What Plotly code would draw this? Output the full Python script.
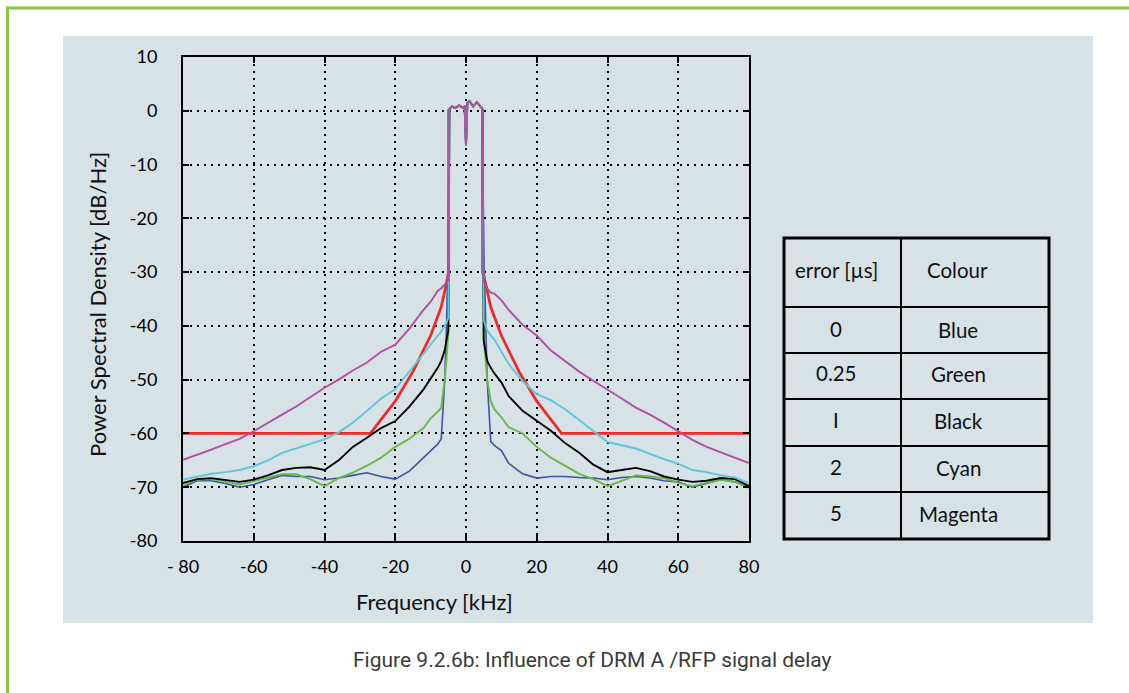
import plotly.graph_objects as go

# ---------------- data ----------------
tail_left_f = [-80, -76, -72, -68, -64, -60, -56, -52, -48, -44, -40, -36, -32, -28,
               -24, -20, -16, -12, -10, -8, -7, -6, -5.5, -5]
tail_right_f = [5, 5.5, 6, 7, 8, 10, 12, 16, 20, 24, 28, 32, 36, 40, 44, 48, 52, 56,
                60, 64, 68, 72, 76, 80]
plateau_f = [-4.7, -4, -3, -2, -1, -0.4, 0, 0.4, 1, 2, 3, 4, 4.6]
plateau_db = [0.3, 0.8, 0.5, 1.0, 0.6, 0.8, -6.4, 1.5, 1.8, 0.8, 1.6, 0.8, 0.4]

blue_left = [-70.0, -68.8, -68.8, -69.3, -70.0, -69.5, -68.6, -67.8, -68.0, -68.0, -68.6, -68.3,
             -67.8, -67.3, -68.0, -68.5, -67.0, -64.5, -63.3, -62.0, -61.0, -50.0, -40.0, -25.0]
blue_right = [-25.0, -40.0, -50.2, -61.5, -62.2, -63.2, -65.5, -67.5, -68.3, -68.0, -68.0, -68.2,
              -68.3, -68.6, -68.2, -68.0, -68.3, -68.8, -69.0, -70.0, -69.3, -68.6, -69.0, -70.1]

green_left = [-69.5, -68.6, -68.5, -68.9, -69.5, -68.9, -68.3, -67.6, -67.6, -68.5, -69.8, -68.3,
              -67.3, -66.0, -64.5, -62.5, -61.0, -59.0, -57.2, -56.0, -55.2, -50.0, -46.0, -41.6]
green_right = [-42.0, -45.9, -50.0, -54.0, -55.5, -57.0, -58.8, -60.0, -62.5, -64.5, -66.0, -67.5,
               -68.5, -69.8, -68.8, -67.8, -68.0, -68.3, -69.2, -69.8, -69.2, -68.6, -69.0, -70.0]

black_left = [-69.2, -68.5, -68.3, -68.6, -69.0, -68.6, -67.8, -66.8, -66.4, -66.3, -66.8, -65.0,
              -62.5, -60.8, -59.0, -57.7, -55.0, -51.8, -49.9, -47.8, -46.5, -44.5, -42.5, -40.9]
black_right = [-42.8, -45.0, -46.5, -47.8, -48.8, -50.5, -53.0, -55.8, -57.6, -59.5, -61.8, -63.6,
               -65.8, -67.2, -66.8, -66.4, -67.0, -68.0, -68.6, -69.0, -68.8, -68.3, -68.5, -69.8]

cyan_left = [-68.6, -68.0, -67.5, -67.2, -66.8, -66.1, -65.0, -63.6, -62.8, -62.0, -61.1, -59.8,
             -58.0, -55.8, -53.5, -51.8, -48.5, -45.0, -43.5, -41.8, -41.0, -40.0, -39.4, -38.5]
cyan_right = [-39.0, -40.0, -40.8, -41.8, -42.5, -44.8, -47.0, -50.3, -52.7, -53.8, -55.5, -57.5,
              -59.5, -61.6, -62.2, -62.8, -63.8, -64.8, -65.6, -66.8, -67.2, -67.8, -68.2, -69.2]

magenta_left = [-64.9, -64.0, -63.0, -62.0, -61.0, -59.6, -58.0, -56.5, -55.0, -53.2, -51.5, -50.0,
                -48.3, -46.8, -44.8, -43.5, -40.5, -37.0, -35.5, -33.5, -33.0, -32.3, -31.9, -31.5]
magenta_right = [-31.8, -32.5, -33.0, -33.8, -34.0, -35.2, -37.0, -39.8, -41.8, -44.6, -46.5, -48.5,
                 -50.2, -51.8, -53.5, -55.2, -56.5, -58.0, -59.6, -61.2, -62.5, -63.5, -64.5, -65.5]

# spectrum mask (red); None = gap, the mask top is hidden under the measured spectra
mask_f = [-80, -27, -20, -15, -10, -7, -5.5, -4.9, -4.9, None, 4.7, 4.7, 5.5, 7, 10, 15, 20, 27, 80]
mask_db = [-60, -60, -54.0, -48.5, -41.8, -36.5, -32.0, -30.0, 0.3, None, 0.3, -30.0, -32.0, -36.5,
           -41.8, -48.5, -54.0, -60, -60]

x_tick_vals = [-80, -60, -40, -20, 0, 20, 40, 60, 80]
x_tick_text = ["- 80", "-60", "-40", "-20", "0", "20", "40", "60", "80"]
y_tick_vals = [10, 0, -10, -20, -30, -40, -50, -60, -70, -80]
y_tick_text = ["10", "0", "-10", "-20", "-30", "-40", "-50", "-60", "-70", "-80"]

table_header = ["error [µs]", "Colour"]
table_errors = ["0", "0.25", "I", "2", "5"]
table_colours = ["Blue", "Green", "Black", "Cyan", "Magenta"]

caption = "Figure 9.2.6b: Influence of DRM A /RFP signal delay"

# ---------------- figure ----------------
W, H = 1129, 693
L, R, T, B = 183, 749, 57, 541  # plot area in pixels


def px(x):
    return (x - L) / (R - L)


def py(y):
    return (B - y) / (B - T)


fig = go.Figure()

full_f = tail_left_f + plateau_f + tail_right_f
measured = [
    ("0 µs", blue_left, blue_right, "#3b54a3", 1.6),
    ("0.25 µs", green_left, green_right, "#69b845", 1.9),
    ("1 µs", black_left, black_right, "#000000", 1.9),
    ("2 µs", cyan_left, cyan_right, "#5ec6da", 1.9),
    ("5 µs", magenta_left, magenta_right, "#b24fa0", 1.9),
]

fig.add_trace(go.Scatter(x=mask_f, y=mask_db, mode="lines", connectgaps=False,
                         line=dict(color="#ee2b2b", width=2.8), name="Mask"))
for name, lft, rgt, col, w in measured:
    fig.add_trace(go.Scatter(x=full_f, y=lft + plateau_db + rgt, mode="lines",
                             line=dict(color=col, width=w), name=name))

font_main = "Lato, 'Open Sans', sans-serif"

fig.update_xaxes(range=[-80, 80], tickvals=x_tick_vals, ticktext=x_tick_text,
                 showgrid=True, gridcolor="black", gridwidth=2, griddash="2px,5px",
                 showline=True, linecolor="black", linewidth=2, mirror="ticks",
                 ticks="inside", ticklen=6, tickwidth=1.5, tickcolor="black",
                 tickfont=dict(family=font_main, size=18, color="#000"),
                 ticklabelstandoff=8,
                 zeroline=False, fixedrange=True)
fig.update_yaxes(range=[-80, 10], tickvals=y_tick_vals, ticktext=y_tick_text,
                 showgrid=True, gridcolor="black", gridwidth=2, griddash="2px,5px",
                 showline=True, linecolor="black", linewidth=2, mirror="ticks",
                 ticks="inside", ticklen=6, tickwidth=1.5, tickcolor="black",
                 tickfont=dict(family=font_main, size=18, color="#000"),
                 ticklabelstandoff=20,
                 zeroline=False, fixedrange=True)

shapes = []
# grey panel
shapes.append(dict(type="rect", xref="paper", yref="paper",
                   x0=px(63), x1=px(1093), y0=py(623), y1=py(36),
                   fillcolor="#d7e2e7", line=dict(width=0), layer="below"))
# green frame (top and left)
shapes.append(dict(type="line", xref="paper", yref="paper",
                   x0=px(6), x1=px(1129), y0=py(8), y1=py(8),
                   line=dict(color="#8cc63f", width=3), layer="below"))
shapes.append(dict(type="line", xref="paper", yref="paper",
                   x0=px(7.5), x1=px(7.5), y0=py(6.5), y1=py(693),
                   line=dict(color="#8cc63f", width=3), layer="below"))

# legend table
tx0, tx1, tcol = 784, 1049, 901
row_y = [238, 307, 353, 399, 446, 492, 539]
shapes.append(dict(type="rect", xref="paper", yref="paper",
                   x0=px(tx0), x1=px(tx1), y0=py(row_y[-1]), y1=py(row_y[0]),
                   line=dict(color="black", width=3), fillcolor="rgba(0,0,0,0)"))
shapes.append(dict(type="line", xref="paper", yref="paper",
                   x0=px(tcol), x1=px(tcol), y0=py(row_y[-1]), y1=py(row_y[0]),
                   line=dict(color="black", width=2)))
for yy in row_y[1:-1]:
    shapes.append(dict(type="line", xref="paper", yref="paper",
                       x0=px(tx0), x1=px(tx1), y0=py(yy), y1=py(yy),
                       line=dict(color="black", width=2)))

annotations = []
tfont = dict(family=font_main, size=20.5, color="#111")
annotations.append(dict(text=table_header[0], x=px(836), y=py(270), xref="paper", yref="paper",
                        showarrow=False, font=tfont, xanchor="center", yanchor="middle"))
annotations.append(dict(text=table_header[1], x=px(957), y=py(270), xref="paper", yref="paper",
                        showarrow=False, font=tfont, xanchor="center", yanchor="middle"))
text_y = [329, 373, 420, 467, 513]
for e, c, yy in zip(table_errors, table_colours, text_y):
    annotations.append(dict(text=e, x=px(836), y=py(yy), xref="paper", yref="paper",
                            showarrow=False, font=tfont, xanchor="center", yanchor="middle"))
    annotations.append(dict(text=c, x=px(958), y=py(yy + 1), xref="paper", yref="paper",
                            showarrow=False, font=tfont, xanchor="center", yanchor="middle"))

# axis titles
annotations.append(dict(text="Frequency [kHz]", x=px(434), y=py(601), xref="paper", yref="paper",
                        showarrow=False, font=dict(family=font_main, size=22, color="#111"),
                        xanchor="center", yanchor="middle"))
annotations.append(dict(text="Power Spectral Density [dB/Hz]", x=px(97), y=py(305),
                        xref="paper", yref="paper", textangle=-90,
                        showarrow=False, font=dict(family=font_main, size=22, color="#111"),
                        xanchor="center", yanchor="middle"))
# caption
annotations.append(dict(text=caption, x=px(592), y=py(660), xref="paper", yref="paper",
                        showarrow=False,
                        font=dict(family="'Liberation Sans Narrow', 'Arial Narrow', 'Roboto', sans-serif",
                                  size=21, color="#3a3a3a"),
                        xanchor="center", yanchor="middle"))

fig.update_layout(width=W, height=H, autosize=False,
                  margin=dict(l=L, r=W - R, t=T, b=H - B, pad=0),
                  paper_bgcolor="white", plot_bgcolor="white",
                  showlegend=False, shapes=shapes, annotations=annotations)

fig.write_html("out.html", config={"displayModeBar": False},
               post_script="document.body.style.margin='0px';document.body.style.overflow='hidden';")
